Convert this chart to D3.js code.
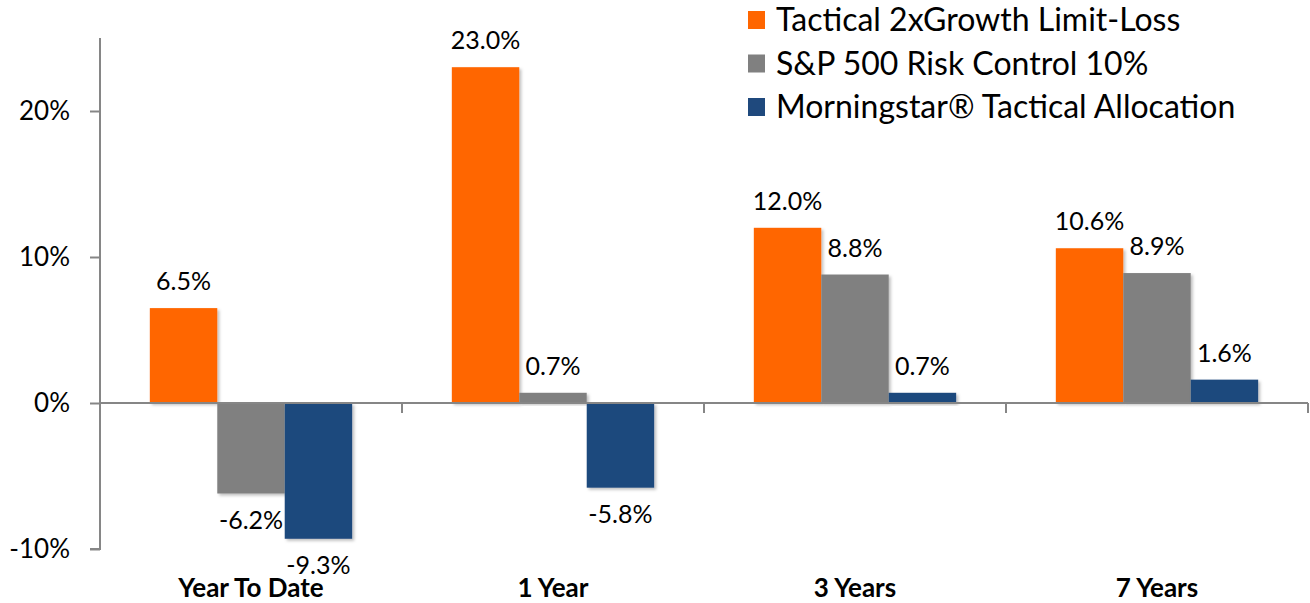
<!DOCTYPE html>
<html>
<head>
<meta charset="utf-8">
<script src="https://cdn.jsdelivr.net/npm/d3@7"></script>
<style>
  body { margin: 0; background: #fff; }
  text { font-family: Lato, "Open Sans", sans-serif; fill: #000; }
</style>
</head>
<body>
<div id="chart"></div>
<script>
// Data
var categories = ["Year To Date", "1 Year", "3 Years", "7 Years"]
var seriesNames = ["Tactical 2xGrowth Limit-Loss", "S&P 500 Risk Control 10%", "Morningstar\u00AE Tactical Allocation"]
var tactical = [6.5, 23.0, 12.0, 10.6]
var riskControl = [-6.2, 0.7, 8.8, 8.9]
var morningstar = [-9.3, -5.8, 0.7, 1.6]
var yTicks = [-10, 0, 10, 20]
var colors = ["#FF6600", "#808080", "#1F497D"]

var width = 1310, height = 603

var svg = d3.select("#chart")
    .append("svg")
    .attr("width", width)
    .attr("height", height)

// soft drop shadow like the original
var defs = svg.append("defs")
var f = defs.append("filter").attr("id", "shadow").attr("x", "-10%").attr("y", "-10%").attr("width", "130%").attr("height", "130%")
f.append("feDropShadow").attr("dx", 2).attr("dy", 2).attr("stdDeviation", 1.5).attr("flood-color", "#000").attr("flood-opacity", 0.25)

var scale_x = d3.scaleBand()
    .domain(categories)
    .range([100, 1308])
    .paddingInner(0.33)
    .paddingOuter(0.165)

var scale_s = d3.scaleBand()
    .domain(d3.range(3))
    .range([0, scale_x.bandwidth()])

var scale_y = d3.scaleLinear()
    .domain([-10, 25])
    .range([549, 38])

var rows = categories.map(function (c, i) {
    return { cat: c, vals: [tactical[i], riskControl[i], morningstar[i]] }
})

// Bars
var groups = svg.append("g").attr("id", "bars")
    .selectAll("g")
    .data(rows)
    .enter()
    .append("g")
    .attr("transform", d => "translate(" + scale_x(d.cat) + ",0)")

groups.selectAll("rect")
    .data(d => d.vals)
    .enter()
    .append("rect")
    .attr("x", (d, i) => scale_s(i))
    .attr("width", scale_s.bandwidth())
    .attr("y", d => scale_y(Math.max(0, d)))
    .attr("height", d => Math.abs(scale_y(d) - scale_y(0)))
    .attr("fill", (d, i) => colors[i])
    .attr("filter", "url(#shadow)")

groups.selectAll("text")
    .data(d => d.vals)
    .enter()
    .append("text")
    .attr("x", (d, i) => scale_s(i) + scale_s.bandwidth() / 2)
    .attr("y", d => d >= 0 ? scale_y(d) - 18 : scale_y(d) + 35)
    .attr("text-anchor", "middle")
    .style("font-size", "25px")
    .text(d => d.toFixed(1) + "%")

// Y axis
var axisY = svg.append("g")
    .attr("transform", "translate(100,0)")
    .call(d3.axisLeft(scale_y).tickValues(yTicks).tickSize(10).tickPadding(20).tickFormat(d => d + "%"))
axisY.select(".domain").attr("d", "M0," + scale_y(25) + "V" + scale_y(-10) + "H-10")
axisY.selectAll("text").style("font-size", "26px")
axisY.selectAll(".domain, line").attr("stroke", "#868686").attr("stroke-width", 2)

// X axis (line at zero, ticks at category boundaries)
var axisX = svg.append("g").attr("transform", "translate(0," + scale_y(0) + ")")
axisX.append("line")
    .attr("x1", 100).attr("x2", 1308)
    .attr("stroke", "#868686").attr("stroke-width", 2)
axisX.selectAll("line.tk")
    .data(categories)
    .enter()
    .append("line")
    .attr("class", "tk")
    .attr("x1", d => scale_x(d) + scale_x.bandwidth() + scale_x.step() * 0.165)
    .attr("x2", d => scale_x(d) + scale_x.bandwidth() + scale_x.step() * 0.165)
    .attr("y1", 0).attr("y2", 10)
    .attr("stroke", "#868686").attr("stroke-width", 2)

svg.append("g").selectAll("text")
    .data(categories)
    .enter()
    .append("text")
    .attr("x", d => scale_x(d) + scale_x.bandwidth() / 2)
    .attr("y", 597)
    .attr("text-anchor", "middle")
    .style("font-size", "26px")
    .style("font-weight", "bold")
    .text(d => d)

// Legend
var legend = svg.append("g").attr("transform", "translate(748,0)")
var items = legend.selectAll("g")
    .data(seriesNames)
    .enter()
    .append("g")
    .attr("transform", (d, i) => "translate(0," + (20 + i * 43.5) + ")")
items.append("rect")
    .attr("x", 0).attr("y", -9)
    .attr("width", 17).attr("height", 18)
    .attr("fill", (d, i) => colors[i])
items.append("text")
    .attr("x", 28)
    .attr("y", 11)
    .style("font-size", "32px")
    .text(d => d)
</script>
</body>
</html>
